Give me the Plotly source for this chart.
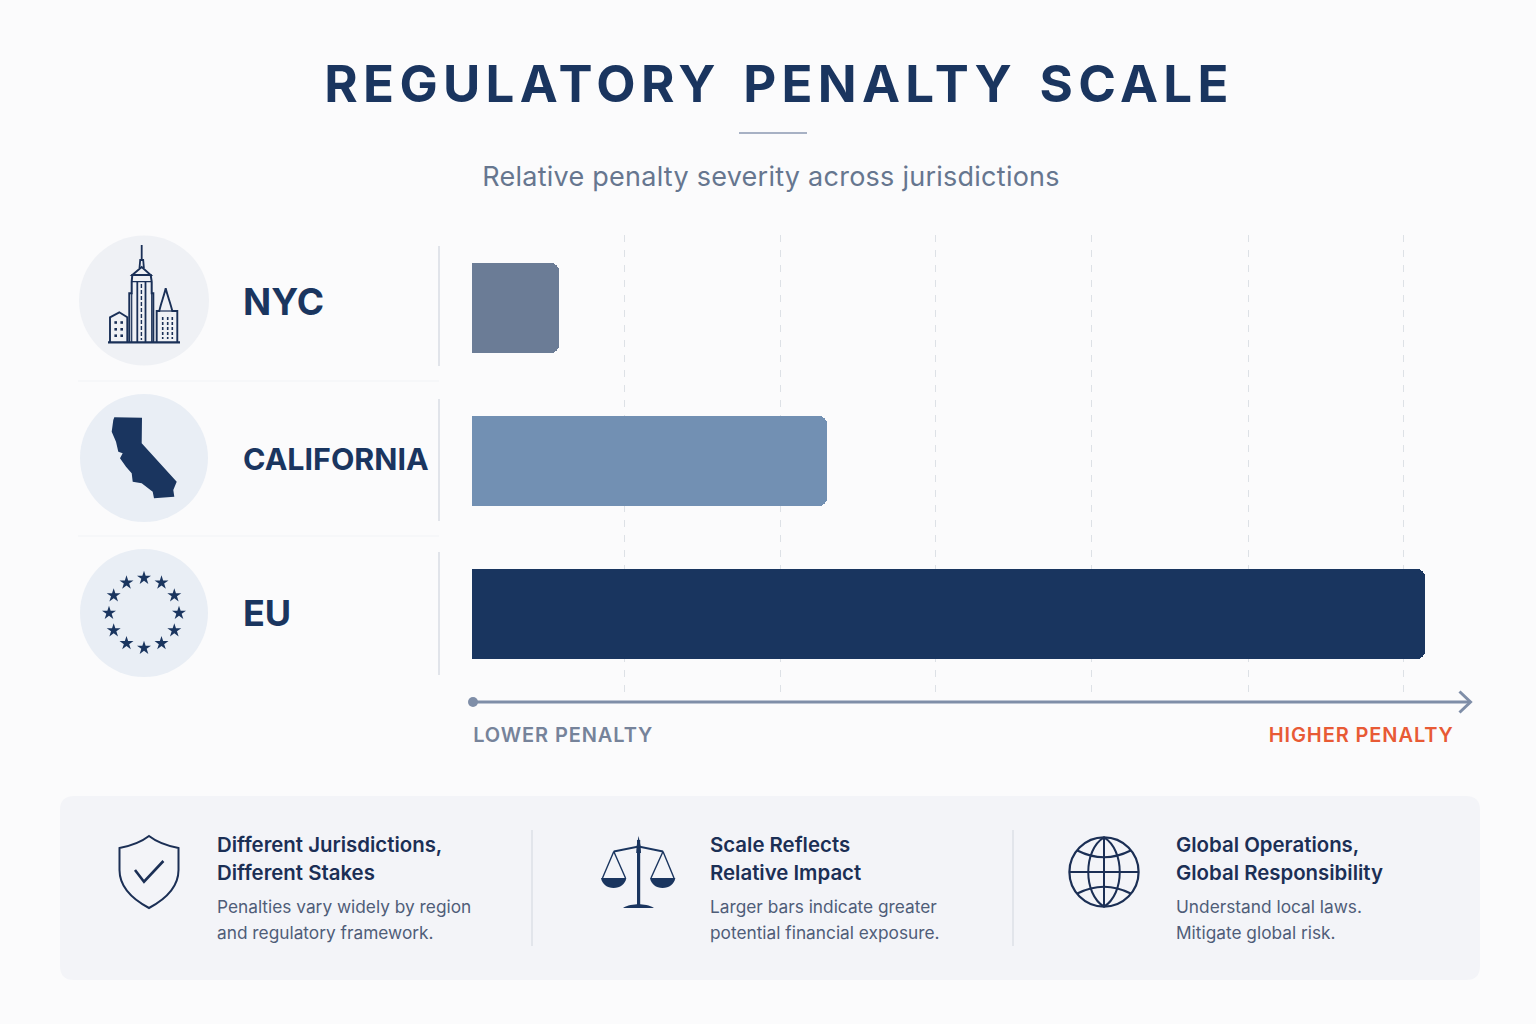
import json
import math
import plotly.graph_objects as go

W, H = 1536, 1024
NAVY = "#1a355f"
INK = "#1b2f55"
BODY = "#4f5d78"
FONT = "Inter"

# Chart data: relative severity, strongest jurisdiction = 100
jurisdictions = ["NYC", "CALIFORNIA", "EU"]
severity = [9.1, 37.2, 100]
bar_colors = ["#6b7c96", "#7290b3", "#19355f"]
grid_values = [15.98, 32.35, 48.63, 65.03, 81.43, 97.73]

label_sizes = [37, 30.4, 36]
label_y = [301, 459, 613]

footer_titles = [
    ["Different Jurisdictions,", "Different Stakes"],
    ["Scale Reflects", "Relative Impact"],
    ["Global Operations,", "Global Responsibility"],
]
footer_bodies = [
    ["Penalties vary widely by region", "and regulatory framework."],
    ["Larger bars indicate greater", "potential financial exposure."],
    ["Understand local laws.", "Mitigate global risk."],
]
footer_x = [215, 708, 1174]

TITLE = "REGULATORY PENALTY SCALE"
SUBTITLE = "Relative penalty severity across jurisdictions"
LOW_LABEL = "LOWER PENALTY"
HIGH_LABEL = "HIGHER PENALTY"

# Extra letter and word tracking per text, applied once the page is drawn
tracking = {TITLE: [5.3, 5], SUBTITLE: [0.25, 0], LOW_LABEL: [0.9, 0], HIGH_LABEL: [0.9, 0]}

fig = go.Figure()

fig.add_trace(go.Bar(
    y=jurisdictions, x=severity, orientation="h", width=0.588,
    marker=dict(color=bar_colors, cornerradius=8, line_width=0),
    hoverinfo="skip", showlegend=False,
))

# Ring of stars in the EU badge, placed on the full-page pixel axes
star_angles = [i * 30 for i in range(12)]
fig.add_trace(go.Scatter(
    x=[144 + 35 * math.cos(math.radians(a)) for a in star_angles],
    y=[613 + 35 * math.sin(math.radians(a)) for a in star_angles],
    xaxis="x2", yaxis="y2", mode="markers",
    marker=dict(symbol="star", size=10.5, color=NAVY, line_width=0),
    hoverinfo="skip", showlegend=False,
))

shapes = []


def path(d, stroke=None, width=0.0, fill=None):
    s = dict(type="path", path=d, xref="x2", yref="y2", layer="below",
             line=dict(color=stroke or "rgba(0,0,0,0)", width=width))
    if fill:
        s["fillcolor"] = fill
    shapes.append(s)


def line(x0, y0, x1, y1, color, width, dash=None):
    ln = dict(color=color, width=width)
    if dash:
        ln["dash"] = dash
    shapes.append(dict(type="line", x0=x0, y0=y0, x1=x1, y1=y1, xref="x2",
                       yref="y2", layer="below", line=ln))


def circle(cx, cy, r, fill=None, stroke=None, width=0.0):
    s = dict(type="circle", x0=cx - r, x1=cx + r, y0=cy - r, y1=cy + r,
             xref="x2", yref="y2", layer="below",
             line=dict(color=stroke or "rgba(0,0,0,0)", width=width))
    if fill:
        s["fillcolor"] = fill
    shapes.append(s)


# Header rule
line(739, 133, 807, 133, "#a7b1c4", 2)

# Row separators next to the jurisdiction names
for y0, y1 in [(246, 366), (399, 521), (552, 675)]:
    line(439, y0, 439, y1, "#d8dde5", 1.5)
for y in (381, 536):
    line(78, y, 439, y, "#f2f3f6", 1.2)

# Badges
circle(144, 300.5, 65, fill="#eff1f5")
circle(144, 458, 64, fill="#e9eef5")
circle(144, 613, 64, fill="#e9eef5")

# Skyline icon
SK = "#1a3057"
line(108, 342.3, 180, 342.3, SK, 2.2)
path("M141.7,245 L141.7,260 M139.5,268 L140.2,260 H143.2 L143.9,268", SK, 1.8)
path("M132.3,275 L141.7,267 L150.7,275 Z", SK, 1.9)
path("M129.3,342 V293.3 H131.7 V281.7 L132.3,275 H150.7 L151.7,281.7 V293.3 H153.3 V342", SK, 2)
path("M131.7,281.7 H151.7 M131.7,293.3 V342 M151.7,293.3 V342", SK, 1.2)
line(137.3, 282, 137.3, 342, SK, 1.8)
line(145.5, 282, 145.5, 342, SK, 1.8)
line(141.4, 284, 141.4, 340, SK, 1.4, dash="4px,2px")
path("M156.7,342 V311 H159.3 C161,303 164,296 165.7,288.3 C167.5,296 170.5,303 172.3,311 H177.3 V342", SK, 1.9)
path("M159.3,311 H172.3", SK, 1.2)
for x in (162.7, 167.7, 172.3):
    line(x, 317, x, 339, SK, 1.6, dash="3px,2px")
path("M110,342 V317.3 L119.3,312.3 L127.3,317.3 V342", SK, 1.9)
for x in (115.7, 121.7):
    for y in (322.5, 329.3, 335.7):
        shapes.append(dict(type="rect", x0=x - 1.3, x1=x + 1.3, y0=y - 1.3, y1=y + 1.3,
                           xref="x2", yref="y2", layer="below", line_width=0, fillcolor=SK))

# California silhouette
path("M114.3,417.3 L142,417.7 L141.7,443.3 L176.7,481.7 L173.3,490 L174.3,496.7 L154,498.3 "
     "L152.7,491.7 L141.7,483.3 L132.7,481.7 L131.7,473.3 L126,466.7 L120,458.3 L122.7,453.3 "
     "L118.3,451.7 L116,441.7 L111.7,431.7 L113.3,420 Z", fill=NAVY)

# Severity axis arrow
line(473, 702, 1470, 702, "#7f8ea8", 3)
circle(473, 702, 5, fill="#7f8ea8")
path("M1459.5,691.5 L1470.5,702 L1459.5,712.5", "#7f8ea8", 3)

# Footer panel
path("M74,796 H1466 Q1480,796 1480,810 V966 Q1480,980 1466,980 H74 Q60,980 60,966 V810 Q60,796 74,796 Z",
     fill="#f3f4f8")
line(532, 830, 532, 946, "#d9dde4", 1.3)
line(1013, 830, 1013, 946, "#d9dde4", 1.3)

# Shield icon
path("M149,836 C140,843 130,846 119.5,848 V870 C119.5,888 134,900 149,908 "
     "C164,900 178.5,888 178.5,870 V848 C168,846 158,843 149,836 Z", INK, 2)
path("M135,870 L144,881.7 L163.4,861", INK, 2.6)

# Scales icon
line(638.6, 840, 638.6, 905, NAVY, 3.2)
path("M636.6,846 L638.6,836 L640.6,846 L641,853 L636.2,853 Z", fill=NAVY)
path("M613.8,851.5 L638.6,846.5 L663,851.5", NAVY, 2)
path("M613.8,851.5 L602.5,878 M613.8,851.5 L625.5,878", NAVY, 1.4)
path("M663,851.5 L651,878 M663,851.5 L674,878", NAVY, 1.4)
path("M601,878 H626.3 C625.5,884 620,888 613.6,888 C607,888 602,884 601,878 Z", fill=NAVY)
path("M650,878 H675.3 C674.5,884 669,888 662.6,888 C656,888 651,884 650,878 Z", fill=NAVY)
path("M623,908 C627,905 634,904.5 638.6,904 C643,904.5 650,905 654,908 Z", fill=NAVY)

# Globe icon
circle(1104, 872, 34.6, stroke=INK, width=2.2)
line(1069.4, 872, 1138.6, 872, INK, 2)
line(1104, 837.4, 1104, 906.6, INK, 2)
path("M1104,837.4 C1083,850 1083,894 1104,906.6 C1125,894 1125,850 1104,837.4 Z", INK, 2)
path("M1077.3,850.5 Q1104,864 1130.7,850.5", INK, 2)
path("M1077.3,893.5 Q1104,880 1130.7,893.5", INK, 2)

annotations = []


def text(t, x, y, size, color, weight=400, anchor="left"):
    annotations.append(dict(text=t, x=x, y=y, xref="x2", yref="y2", xanchor=anchor,
                            yanchor="middle", showarrow=False, align=anchor,
                            font=dict(family=FONT, size=size, color=color, weight=weight)))


text(SUBTITLE, 770.5, 176, 27, "#66768f", 400, "center")
for name, size, y in zip(jurisdictions, label_sizes, label_y):
    text(name, 241, y, size, NAVY, 700)
text(LOW_LABEL, 563, 735, 20, "#76839a", 600, "center")
text(HIGH_LABEL, 1360.5, 735, 20, "#e85a35", 600, "center")

for x, titles, bodies in zip(footer_x, footer_titles, footer_bodies):
    text(titles[0], x, 844, 20.4, INK, 600)
    text(titles[1], x, 872, 20.4, INK, 600)
    text(bodies[0], x, 906.5, 17.3, BODY, 400)
    text(bodies[1], x, 932.5, 17.3, BODY, 400)

fig.update_layout(
    width=W, height=H, autosize=False,
    margin=dict(l=0, r=0, t=0, b=0, pad=0),
    paper_bgcolor="#fbfbfc", plot_bgcolor="rgba(0,0,0,0)",
    font=dict(family=FONT),
    title=dict(text=TITLE, x=779 / W, y=1 - 84 / H, xref="paper", yref="paper",
               xanchor="center", yanchor="middle",
               font=dict(family=FONT, size=51, color=NAVY, weight=700)),
    bargap=0,
    xaxis=dict(domain=[472 / W, 1472 / W], range=[0, 104.9], tickvals=grid_values,
               showticklabels=False, ticks="", showline=False, zeroline=False,
               showgrid=True, gridcolor="#dde1e6", gridwidth=1, griddash="7px,8px",
               fixedrange=True),
    # First category sits at the top of the axis
    yaxis=dict(domain=[1 - 700 / H, 1 - 235 / H], range=[-0.565, 2.474],
               type="category", categoryorder="array", categoryarray=jurisdictions[::-1],
               showticklabels=False, ticks="", showline=False, zeroline=False,
               showgrid=False, fixedrange=True),
    xaxis2=dict(domain=[0, 1], range=[0, W], visible=False, anchor="y2", fixedrange=True),
    yaxis2=dict(domain=[0, 1], range=[H, 0], visible=False, anchor="x2", fixedrange=True),
    shapes=shapes,
    annotations=annotations,
)

spacing_js = """
var spacing = %s;
document.getElementById('{plot_id}').querySelectorAll('text').forEach(function (t) {
  var s = spacing[t.textContent];
  if (s) { t.style.letterSpacing = s[0] + 'px'; t.style.wordSpacing = s[1] + 'px'; }
});
""" % json.dumps(tracking)

fig.write_html("out.html", config=dict(displayModeBar=False), post_script=spacing_js)
